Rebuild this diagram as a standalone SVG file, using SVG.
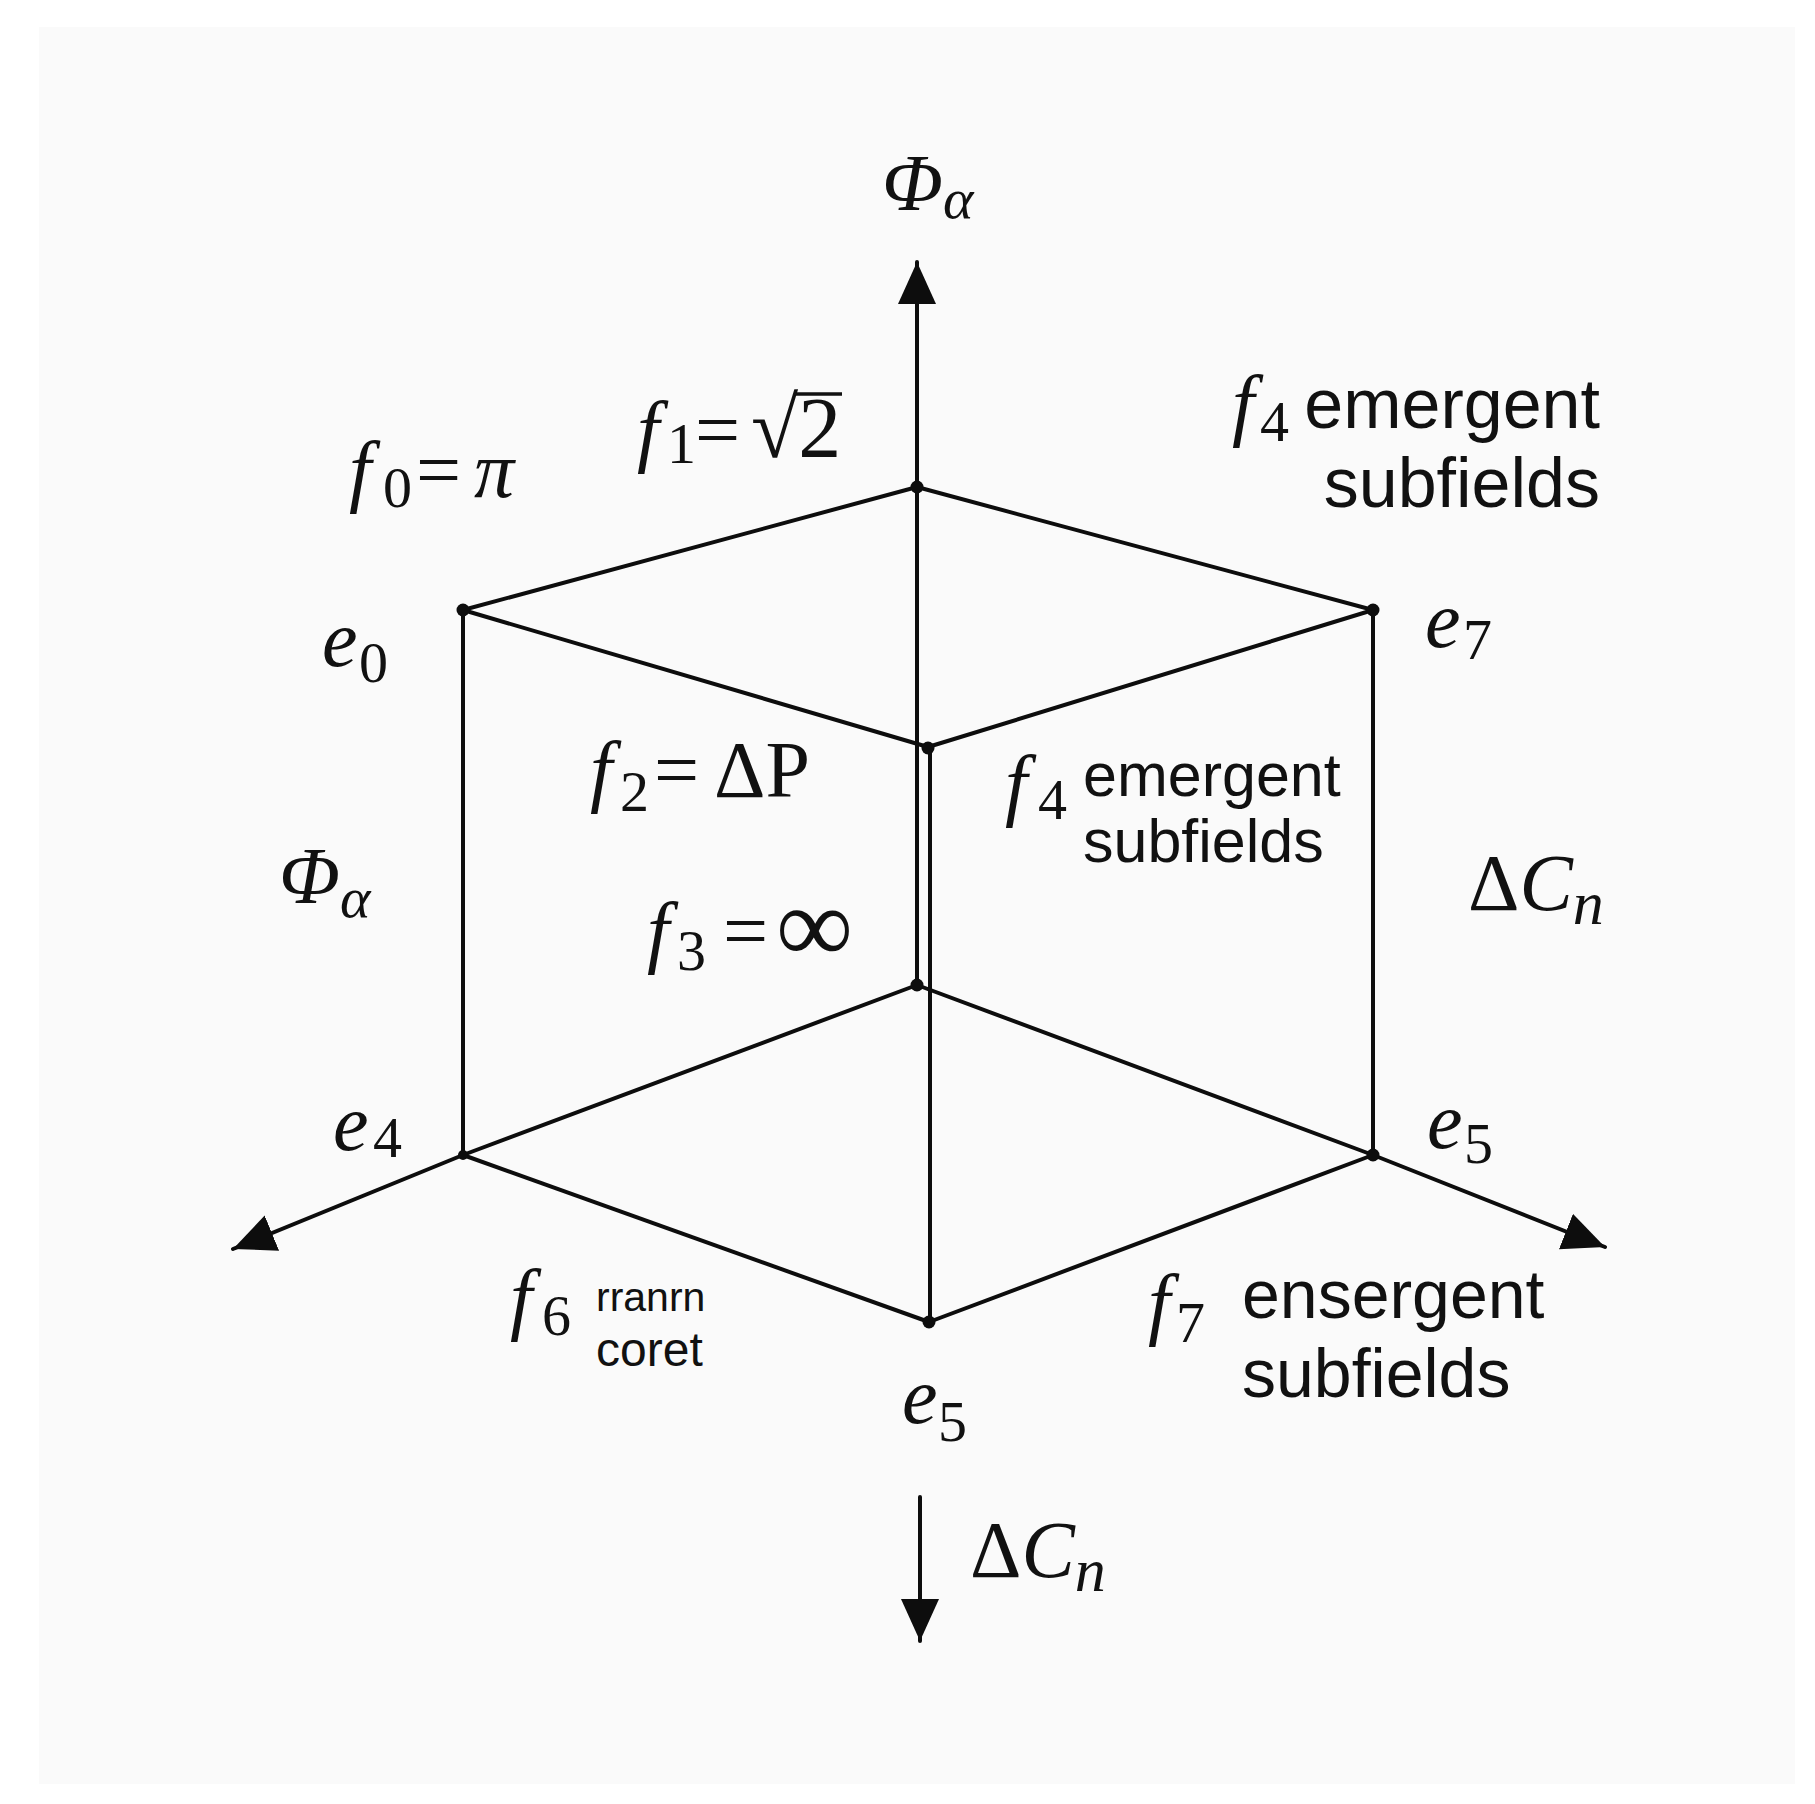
<svg xmlns="http://www.w3.org/2000/svg" width="1815" height="1804" viewBox="0 0 1815 1804">
<defs>
<style>
.ln{stroke:#0d0d0d;stroke-width:4;fill:none;stroke-linecap:round}
.dot{fill:#0d0d0d}
.m{font-family:"Liberation Serif","DejaVu Serif",serif;font-size:80px;fill:#111}
.it{font-style:italic}
.sb{font-size:58px;font-style:normal}
.op{font-size:80px;font-style:normal}
.s{font-family:"Liberation Sans",Arial,sans-serif;fill:#111}
</style>
<marker id="ah" markerUnits="userSpaceOnUse" markerWidth="44" markerHeight="40" refX="42" refY="19" orient="auto">
<path d="M0,0 L42,19 L0,38 Z" fill="#0d0d0d"/>
</marker>
</defs>
<rect x="0" y="0" width="1815" height="1804" fill="#ffffff"/>
<rect x="39" y="27" width="1756" height="1757" fill="#fafafa"/>

<g id="connectors">
<line class="ln" x1="917" y1="985" x2="917" y2="262" marker-end="url(#ah)"/>
<line class="ln" x1="930" y1="747" x2="930" y2="1322"/>
<line class="ln" x1="917" y1="487" x2="463" y2="610"/>
<line class="ln" x1="917" y1="487" x2="1373" y2="610"/>
<line class="ln" x1="463" y1="610" x2="928" y2="747"/>
<line class="ln" x1="1373" y1="610" x2="928" y2="747"/>
<line class="ln" x1="463" y1="610" x2="463" y2="1155"/>
<line class="ln" x1="1373" y1="610" x2="1373" y2="1155"/>
<line class="ln" x1="917" y1="985" x2="463" y2="1155"/>
<line class="ln" x1="917" y1="985" x2="1373" y2="1155"/>
<line class="ln" x1="463" y1="1155" x2="929" y2="1322"/>
<line class="ln" x1="1373" y1="1155" x2="929" y2="1322"/>
<line class="ln" x1="463" y1="1155" x2="233" y2="1249" marker-end="url(#ah)"/>
<line class="ln" x1="1373" y1="1155" x2="1605" y2="1247" marker-end="url(#ah)"/>
<line class="ln" x1="920" y1="1497" x2="920" y2="1641" marker-end="url(#ah)"/>
</g>

<g id="vertices">
<circle class="dot" cx="917" cy="487" r="6.5"/>
<circle class="dot" cx="463" cy="610" r="6.5"/>
<circle class="dot" cx="1373" cy="610" r="6.5"/>
<circle class="dot" cx="928" cy="748" r="6.5"/>
<circle class="dot" cx="917" cy="985" r="6.5"/>
<circle class="dot" cx="463" cy="1155" r="5"/>
<circle class="dot" cx="1373" cy="1155" r="6.5"/>
<circle class="dot" cx="929" cy="1322" r="6.5"/>
</g>

<g id="label-phi-top"><text class="m it" font-size="72" x="882" y="210">Φ<tspan font-size="58" dy="8">α</tspan></text></g>
<g id="label-f0"><text class="m" y="497"><tspan class="it" x="349">f</tspan><tspan class="sb" x="383" dy="10">0</tspan><tspan class="op" x="416" dy="-10">=</tspan><tspan class="it" x="474">π</tspan></text></g>
<g id="label-f1"><text class="m" y="457"><tspan class="it" x="637">f</tspan><tspan class="sb" x="667" dy="6">1</tspan><tspan class="op" x="695" dy="-6">=</tspan><tspan font-size="86" x="751">√2</tspan></text>
<line x1="795" y1="394" x2="842" y2="394" stroke="#111" stroke-width="3.5"/></g>
<g id="label-e0"><text class="m it" y="666"><tspan x="322">e</tspan><tspan class="sb" x="359" dy="16">0</tspan></text></g>
<g id="label-e7"><text class="m it" y="647"><tspan x="1425">e</tspan><tspan class="sb" x="1463" dy="12">7</tspan></text></g>
<g id="label-f4-top">
<text class="m it" y="431"><tspan x="1232">f</tspan><tspan class="sb" x="1260" dy="10">4</tspan></text>
<text class="s" font-size="70" x="1600" y="428" text-anchor="end">emergent</text>
<text class="s" font-size="70" x="1600" y="507" text-anchor="end">subfields</text>
</g>
<g id="label-f2"><text class="m" y="797"><tspan class="it" x="590">f</tspan><tspan class="sb" x="620" dy="14">2</tspan><tspan class="op" x="654" dy="-14">=</tspan><tspan x="714">ΔP</tspan></text></g>
<g id="label-f4-mid">
<text class="m it" y="811"><tspan x="1005">f</tspan><tspan class="sb" x="1038" dy="8">4</tspan></text>
<text class="s" font-size="61" x="1083" y="796">emergent</text>
<text class="s" font-size="61" x="1083" y="862">subfields</text>
</g>
<g id="label-phi-left"><text class="m it" font-size="72" x="279" y="903">Φ<tspan font-size="58" dy="14">α</tspan></text></g>
<g id="label-f3"><text class="m" y="958"><tspan class="it" x="647">f</tspan><tspan class="sb" x="677" dy="12">3</tspan><tspan class="op" x="723" dy="-12">=</tspan><tspan font-size="108" x="776" dy="4">∞</tspan></text></g>
<g id="label-dcn-right"><text class="m" font-size="78" x="1468" y="910">Δ<tspan class="it">C</tspan><tspan class="it" font-size="62" dy="14">n</tspan></text></g>
<g id="label-e4"><text class="m it" y="1150"><tspan x="333">e</tspan><tspan class="sb" x="373" dy="7">4</tspan></text></g>
<g id="label-e5-right"><text class="m it" y="1148"><tspan x="1427">e</tspan><tspan class="sb" x="1464" dy="15">5</tspan></text></g>
<g id="label-f6">
<text class="m" y="1325"><tspan class="it" x="510">f</tspan><tspan class="sb" x="542" dy="10">6</tspan></text>
<text class="s" font-size="41" x="596" y="1311">rranrn</text>
<text class="s" font-size="48" x="596" y="1366">coret</text>
</g>
<g id="label-e5-bottom"><text class="m it" y="1423"><tspan x="902">e</tspan><tspan class="sb" x="938" dy="18">5</tspan></text></g>
<g id="label-f7">
<text class="m" y="1330"><tspan class="it" x="1148">f</tspan><tspan class="sb" x="1176" dy="12">7</tspan></text>
<text class="s" font-size="68" x="1242" y="1318">ensergent</text>
<text class="s" font-size="68" x="1242" y="1397">subfields</text>
</g>
<g id="label-dcn-bottom"><text class="m" font-size="80" x="970" y="1577">Δ<tspan class="it">C</tspan><tspan class="it" font-size="62" dy="14">n</tspan></text></g>
</svg>
